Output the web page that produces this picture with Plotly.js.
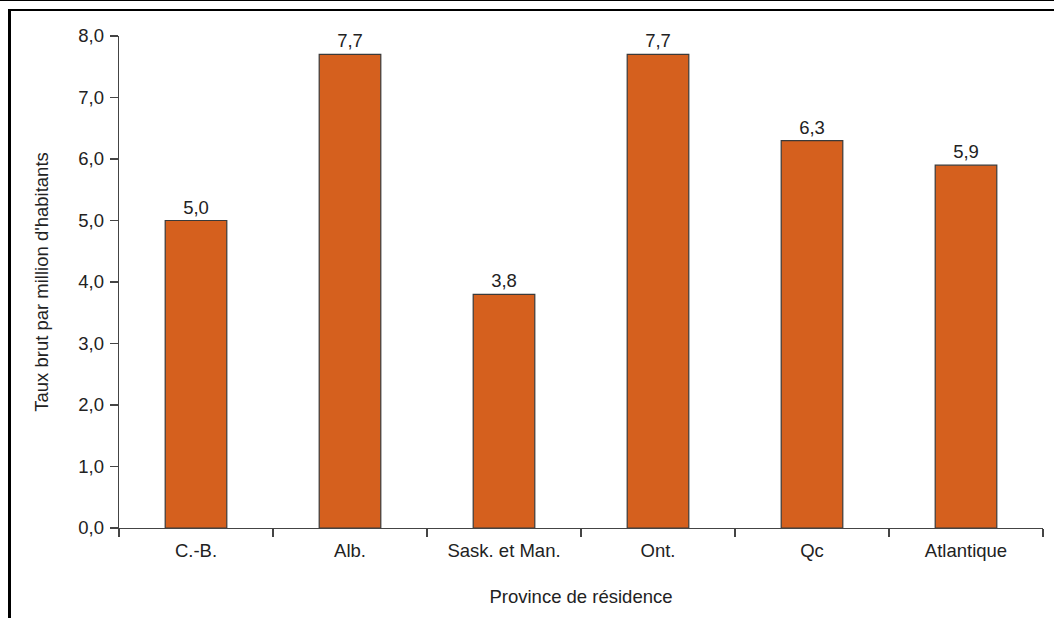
<!DOCTYPE html>
<html>
<head>
<meta charset="utf-8">
<script src="https://cdn.plot.ly/plotly-3.0.1.min.js"></script>
<style>
  html, body { margin: 0; padding: 0; background: #fff; }
  #wrap { position: relative; width: 1054px; height: 618px; overflow: hidden; }
  #chart { position: absolute; left: 0; top: 0; width: 1054px; height: 618px; }
  .ln { position: absolute; background: #000; pointer-events: none; }
</style>
</head>
<body>
<div id="wrap">
  <div id="chart"></div>
  <div class="ln" style="left:0; top:0; width:1054px; height:1px;"></div>
  <div class="ln" style="left:8px; top:9px; width:1046px; height:2px;"></div>
  <div class="ln" style="left:8px; top:9px; width:3px; height:609px;"></div>
</div>
<script>
const categories = ["C.-B.", "Alb.", "Sask. et Man.", "Ont.", "Qc", "Atlantique"];
const rates = [5.0, 7.7, 3.8, 7.7, 6.3, 5.9];
const yTickVals = [0, 1, 2, 3, 4, 5, 6, 7, 8];

const FONT = "Liberation Sans, Arial, sans-serif";
const FS = 18.5;

const trace = {
  type: "bar",
  x: categories,
  y: rates,
  width: 0.4,
  marker: { color: "#D5601E", line: { color: "#3a3a3a", width: 1.2 } },
  text: rates,
  texttemplate: "%{y:.1f}",
  textposition: "outside",
  cliponaxis: false,
  textfont: { family: FONT, size: FS, color: "#222" },
  hoverinfo: "skip"
};

const layout = {
  width: 1054,
  height: 618,
  margin: { l: 119, r: 11, t: 36, b: 90 },
  paper_bgcolor: "#fff",
  plot_bgcolor: "#fff",
  separators: ", ",
  showlegend: false,
  font: { family: FONT, size: FS, color: "#222" },
  xaxis: {
    type: "category",
    range: [-0.5, 5.5],
    showline: true, linecolor: "#444", linewidth: 1.3,
    ticks: "outside", tickson: "boundaries", ticklen: 8, tickcolor: "#444", tickwidth: 1.3,
    ticklabelstandoff: 5,
    showgrid: false, zeroline: false,
    tickfont: { family: FONT, size: FS, color: "#222" },
    title: { text: "Province de résidence", font: { family: FONT, size: FS, color: "#222" }, standoff: 30 }
  },
  yaxis: {
    range: [0, 8],
    tickvals: yTickVals,
    tickformat: ".1f",
    showline: true, linecolor: "#444", linewidth: 1.3,
    ticks: "outside", ticklen: 8, tickcolor: "#444", tickwidth: 1.3,
    ticklabelstandoff: 2,
    showgrid: false, zeroline: false,
    tickfont: { family: FONT, size: FS, color: "#222" },
    title: { text: "Taux brut par million d'habitants", font: { family: FONT, size: FS, color: "#222" }, standoff: 24 }
  }
};

Plotly.newPlot("chart", [trace], layout, { staticPlot: true, displayModeBar: false });
</script>
</body>
</html>
